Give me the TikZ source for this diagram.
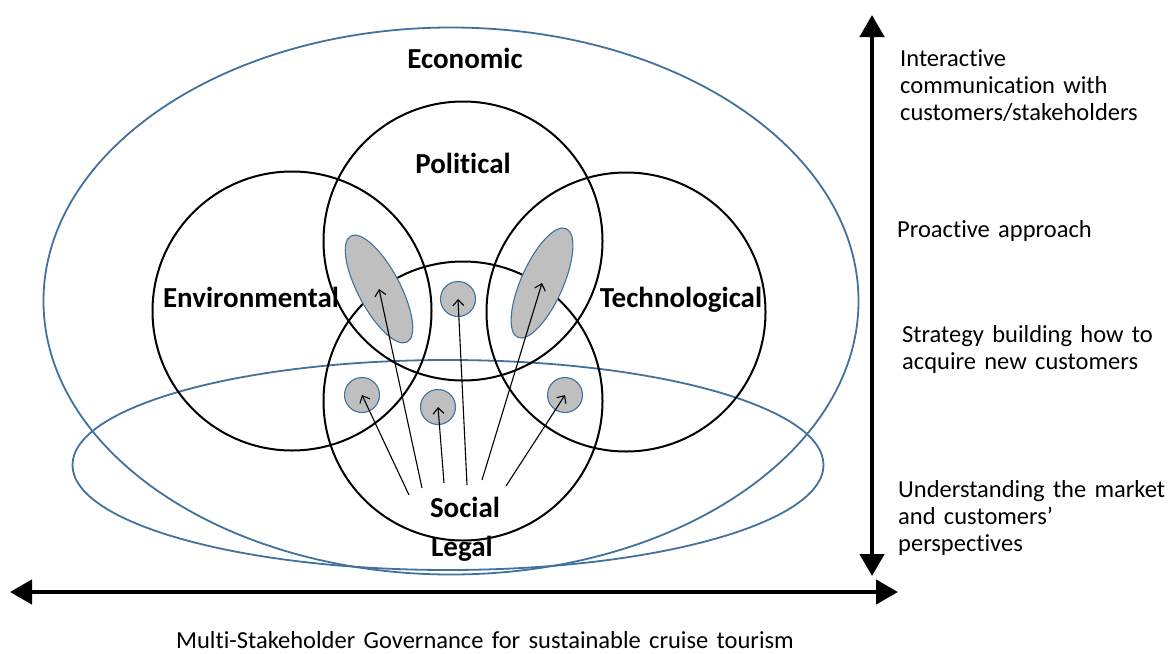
\documentclass[tikz,border=0pt]{standalone}
\usepackage{fontspec}
\setmainfont{Carlito}[Ligatures=NoCommon]
\usetikzlibrary{shapes.geometric,arrows.meta}
\definecolor{ringblue}{HTML}{41719C}
\definecolor{spotgray}{HTML}{BFBFBF}
\newcommand\sidefont{\fontsize{24.5}{27}\selectfont\spaceskip=0.34em\relax}

\begin{document}
\begin{tikzpicture}[x=1pt,y=-1pt,
    ring/.style={circle,draw,line width=2pt,minimum size=279pt,inner sep=0pt},
    oval/.style={ellipse,draw=ringblue,line width=1.8pt,inner sep=0pt},
    spot/.style={ellipse,draw=ringblue,fill=spotgray,line width=1.1pt,inner sep=0pt},
    lbl/.style={font=\fontsize{29}{33}\selectfont\bfseries},
    txt/.style={font=\sidefont,align=left,anchor=west,inner sep=0pt},
    pointer/.style={line width=1.1pt,-{Straight Barb[length=6pt,width=11pt]}},
    axis/.style={line width=4.5pt,{Triangle[length=22pt,width=24pt]}-{Triangle[length=22pt,width=24pt]}}]
      \useasboundingbox (0,0) rectangle (1172,653) ;
      \node[oval,minimum width=815pt,minimum height=547pt] (econ) at (451,301) {} ;
      \node[oval,minimum width=751pt,minimum height=210pt] (legal) at (448,465) {} ;
      \node[ring] (pol) at (463,241) {} ;
      \node[ring] (env) at (292,311) {} ;
      \node[ring] (tech) at (626,312) {} ;
      \node[ring] (soc) at (463,401) {} ;
      \node[spot,minimum width=120pt,minimum height=42pt,rotate=118] (sEP) at (379,289) {} ;
      \node[spot,minimum width=119pt,minimum height=42pt,rotate=66] (sTP) at (542,283) {} ;
      \node[spot,minimum width=35pt,minimum height=35pt] (sPS) at (458,299) {} ;
      \node[spot,minimum width=35pt,minimum height=35pt] (sES) at (362,395) {} ;
      \node[spot,minimum width=35pt,minimum height=35pt] (sS) at (438,407) {} ;
      \node[spot,minimum width=35pt,minimum height=35pt] (sTS) at (565,395) {} ;
      \coordinate (a1) at (409,495) ;
      \coordinate (a2) at (422,488) ;
      \coordinate (a3) at (444,483) ;
      \coordinate (a4) at (467,485) ;
      \coordinate (a5) at (482,480) ;
      \coordinate (a6) at (506,486) ;
      \draw[pointer] (a1) -- (sES.center) ;
      \draw[pointer] (a2) -- (sEP.center) ;
      \draw[pointer] (a3) -- (sS.center) ;
      \draw[pointer] (a4) -- (sPS.center) ;
      \draw[pointer] (a5) -- (sTP.center) ;
      \draw[pointer] (a6) -- (sTS.center) ;
      \node[lbl] (econL) at (465,58) {Economic} ;
      \node[lbl] (polL) at (463,163) {Political} ;
      \node[lbl] (envL) at (251,297) {Environmental} ;
      \node[lbl] (techL) at (681,300) {Technological} ;
      \node[lbl] (socL) at (465,507) {Social} ;
      \node[lbl] (legalL) at (462,549) {Legal} ;
      \coordinate (hL) at (10,592) ;
      \coordinate (hR) at (898,592) ;
      \coordinate (vT) at (872,15) ;
      \coordinate (vB) at (872,576) ;
      \draw[axis] (hL) -- (hR) ;
      \draw[axis] (vT) -- (vB) ;
      \node[txt] (t1) at (900,86) {Interactive\\communication with\\customers/stakeholders} ;
      \node[txt] (t2) at (897,231) {Proactive approach} ;
      \node[txt] (t3) at (902,349) {Strategy building how to\\acquire new customers} ;
      \node[txt] (t4) at (898,518) {Understanding the market\\and customers’\\perspectives} ;
      \node[txt,anchor=center] (gov) at (485,640) {Multi-Stakeholder Governance for sustainable cruise tourism} ;
\end{tikzpicture}
\end{document}
